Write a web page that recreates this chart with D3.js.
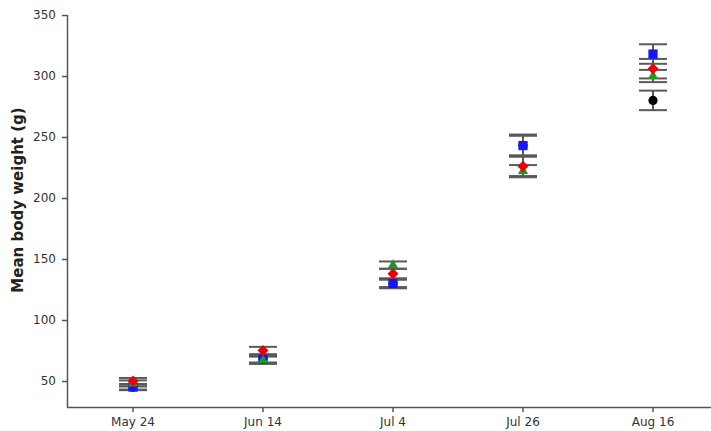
<!DOCTYPE html>
<html>
<head>
<meta charset="utf-8">
<script src="https://cdn.jsdelivr.net/npm/d3@7"></script>
<style>
  html, body { margin: 0; padding: 0; background: #fff; }
  svg { display: block; }
  .axis text { font-family: "DejaVu Sans", Verdana, sans-serif; font-size: 12px; fill: #333; }
  .axis path, .axis line { stroke: #555; stroke-width: 1.5; }
</style>
</head>
<body>
<svg id="chart" width="711" height="431"></svg>
<script>
// Sampling dates on the x axis
const dates = ["May 24", "Jun 14", "Jul 4", "Jul 26", "Aug 16"];
const yTicks = [50, 100, 150, 200, 250, 300, 350];

// Mean body weight (g) for each group, with the error half-width
const blackMean = [45, 68, 130, 243, 280];
const blackErr  = [2.5, 3, 4, 8, 8];
const blueMean  = [45, 68, 130, 243, 318];
const blueErr   = [2, 3, 3, 9, 8];
const greenMean = [48, 67, 145, 222, 300];
const greenErr  = [2.5, 3, 3, 5, 5];
const redMean   = [50, 75, 138, 226, 306];
const redErr    = [2.5, 3, 4, 8, 8];

const series = [
  { name: "black", mean: blackMean, err: blackErr, color: "#000000", shape: d3.symbolCircle, size: 66, rot: 0 },
  { name: "blue",  mean: blueMean,  err: blueErr,  color: "#1414ff", shape: d3.symbolSquare, size: 85, rot: 0 },
  { name: "green", mean: greenMean, err: greenErr, color: "#1a9a1a", shape: d3.symbolTriangle, size: 45, rot: 0 },
  { name: "red",   mean: redMean,   err: redErr,   color: "#ee0000", shape: d3.symbolSquare, size: 60, rot: 45 }
];

const svg = d3.select("#chart");

const x = d3.scaleBand().domain(dates).range([68, 718]);
const y = d3.scaleLinear().domain([28.7, 350]).range([407, 15]);

// Axes
svg.append("g")
  .attr("class", "axis")
  .attr("transform", "translate(0,407)")
  .call(d3.axisBottom(x).tickSizeOuter(0).tickSize(5).tickPadding(5))
  .call(g => g.select(".domain").attr("d", "M67,0.5H711"));

svg.append("g")
  .attr("class", "axis")
  .attr("transform", "translate(67,0)")
  .call(d3.axisLeft(y).tickValues(yTicks).tickSize(5).tickSizeOuter(0).tickPadding(6))
  .call(g => g.select(".domain").attr("d", "M0.5,15V407.5"));

// Y axis title
svg.append("text")
  .attr("transform", "translate(23,200) rotate(-90)")
  .attr("text-anchor", "middle")
  .style("font-family", "'DejaVu Sans', Verdana, sans-serif")
  .style("font-size", "15px")
  .style("font-weight", "bold")
  .style("fill", "#222")
  .text("Mean body weight (g)");

const cx = d => x(d) + x.bandwidth() / 2;
const capHalf = 14;

// Error bars for every group
const bars = svg.append("g").attr("stroke", "#5a5a5a").attr("stroke-width", 2);
series.forEach(s => {
  dates.forEach((d, i) => {
    const x0 = cx(d);
    const lo = y(s.mean[i] - s.err[i]);
    const hi = y(s.mean[i] + s.err[i]);
    bars.append("line").attr("x1", x0).attr("x2", x0).attr("y1", lo).attr("y2", hi);
    bars.append("line").attr("x1", x0 - capHalf).attr("x2", x0 + capHalf).attr("y1", lo).attr("y2", lo);
    bars.append("line").attr("x1", x0 - capHalf).attr("x2", x0 + capHalf).attr("y1", hi).attr("y2", hi);
  });
});

// Group means as markers
series.forEach(s => {
  svg.append("g").selectAll("path")
    .data(dates)
    .join("path")
    .attr("transform", (d, i) => `translate(${cx(d)},${y(s.mean[i])}) rotate(${s.rot})`)
    .attr("d", d3.symbol().type(s.shape).size(s.size))
    .attr("fill", s.color);
});
</script>
</body>
</html>
